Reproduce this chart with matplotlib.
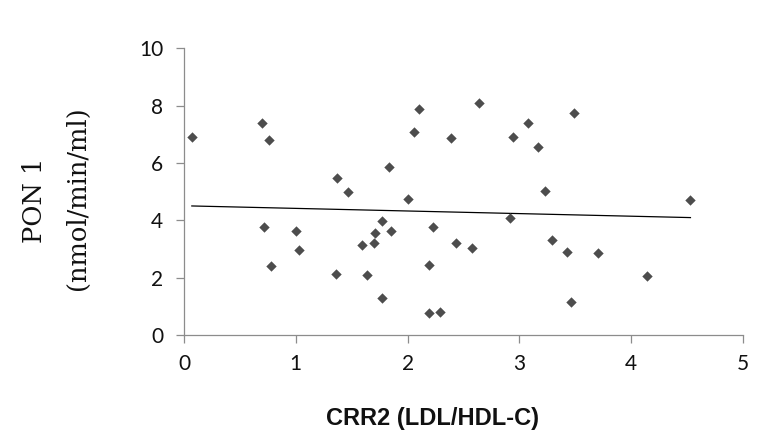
import numpy as np
import matplotlib
matplotlib.use("Agg")
import matplotlib.pyplot as plt

# CRR2 (LDL/HDL-C) と PON 1 の値
crr2 = [0.07, 0.70, 0.76, 1.37, 1.47, 1.83, 2.10, 2.06, 2.39, 2.00,
        2.64, 3.08, 2.94, 3.17, 3.49, 3.23, 4.53, 0.72, 0.78, 1.00,
        1.03, 1.36, 1.59, 1.64, 1.70, 1.71, 1.77, 1.77, 1.85, 2.19,
        2.23, 2.19, 2.29, 2.43, 2.92, 2.58, 3.29, 3.43, 3.70, 4.14,
        3.46]
pon1 = [6.92, 7.38, 6.80, 5.47, 4.98, 5.87, 7.87, 7.07, 6.88, 4.75,
        8.10, 7.38, 6.92, 6.56, 7.74, 5.02, 4.72, 3.76, 2.42, 3.64,
        2.96, 2.14, 3.13, 2.09, 3.20, 3.56, 3.99, 1.28, 3.64, 2.45,
        3.76, 0.76, 0.80, 3.20, 4.07, 3.05, 3.33, 2.90, 2.86, 2.06,
        1.16]

x_ticks = [0, 1, 2, 3, 4, 5]
y_ticks = [0, 2, 4, 6, 8, 10]

fig = plt.figure(figsize=(7.78, 4.38), dpi=100)
ax = fig.add_axes([0.2365, 0.2352, 0.7185, 0.6545])

x = np.array(crr2)
y = np.array(pon1)
ax.scatter(x, y, marker='D', s=28, color='#4d4d4d', linewidths=0, zorder=3)

# 線形近似
slope, intercept = np.polyfit(x, y, 1)
xs = np.array([x.min(), x.max()])
ax.plot(xs, slope * xs + intercept, color='black', linewidth=0.9, zorder=2)

ax.set_xlim(0, 5)
ax.set_ylim(0, 10)
ax.set_xticks(x_ticks)
ax.set_yticks(y_ticks)

for side in ['top', 'right']:
    ax.spines[side].set_visible(False)
for side in ['left', 'bottom']:
    ax.spines[side].set_color('#8c8c8c')
    ax.spines[side].set_linewidth(0.9)

ax.tick_params(axis='both', direction='out', length=6, width=0.9,
               color='#8c8c8c', labelsize=15, labelcolor='#111111')
ax.tick_params(axis='x', pad=8)
ax.tick_params(axis='y', pad=9)
for lbl in ax.get_xticklabels() + ax.get_yticklabels():
    lbl.set_family('Lato')

fig.text(433 / 778, 1 - 418 / 438, 'CRR2 (LDL/HDL-C)', ha='center', va='center',
         fontsize=17, fontweight='bold', family='Liberation Sans', color='#111111')
fig.text(35 / 778, 1 - 200 / 438, 'PON 1', rotation=90, ha='center', va='center',
         fontsize=18.5, family='DejaVu Serif', color='#111111')
fig.text(77 / 778, 1 - 198 / 438, '(nmol/min/ml)', rotation=90, ha='center', va='center',
         fontsize=18.5, family='DejaVu Serif', color='#111111')

plt.savefig('out.png', dpi=100)
